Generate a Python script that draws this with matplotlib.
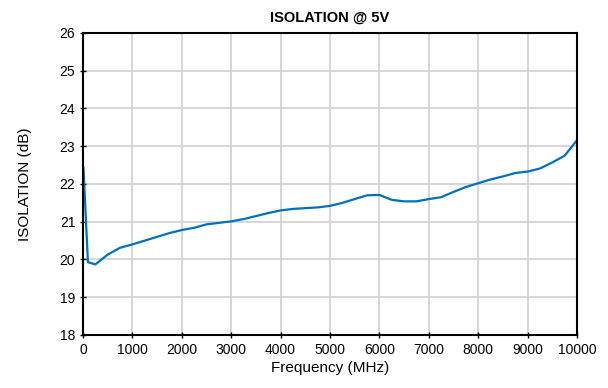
import numpy as np
import matplotlib.pyplot as plt

plt.rcParams['font.family'] = ['Liberation Sans', 'DejaVu Sans']

# Isolation @ 5V, frequency in MHz
freq = [10, 100, 250, 500, 750, 1000, 1250, 1500, 1750, 2000, 2250, 2500, 2750,
        3000, 3250, 3500, 3750, 4000, 4250, 4500, 4750, 5000, 5250, 5500, 5750,
        6000, 6250, 6500, 6750, 7000, 7250, 7500, 7750, 8000, 8250, 8500, 8750,
        9000, 9250, 9500, 9750, 10000]
isolation = [22.42, 19.93, 19.87, 20.13, 20.31, 20.40, 20.50, 20.60, 20.70, 20.78,
             20.84, 20.93, 20.97, 21.01, 21.07, 21.15, 21.23, 21.30, 21.34, 21.36,
             21.38, 21.42, 21.50, 21.60, 21.70, 21.71, 21.58, 21.54, 21.54, 21.60,
             21.65, 21.79, 21.92, 22.02, 22.12, 22.20, 22.29, 22.33, 22.41, 22.57,
             22.75, 23.16]

fig = plt.figure(figsize=(6.08, 3.88), dpi=100)
ax = fig.add_axes([0.1365, 0.1366, 0.8125, 0.7784])

ax.plot(freq, isolation, color='#0070c0', linewidth=1.6)

ax.set_xlim(0, 10000)
ax.set_ylim(18, 26)
ax.set_xticks(np.arange(0, 10001, 1000))
ax.set_yticks(np.arange(18, 27, 1))
ax.grid(True, color='#d0d0d0', linewidth=1.2)
ax.set_axisbelow(True)
for s in ax.spines.values():
    s.set_linewidth(1.5)
    s.set_color('black')
ax.tick_params(axis='both', labelsize=10, direction='inout', length=5, width=1, pad=3)

ax.set_title('ISOLATION @ 5V', fontsize=10.5, fontweight='bold', pad=8)
ax.set_xlabel('Frequency (MHz)', fontsize=11, labelpad=3)
ax.set_ylabel('ISOLATION (dB)', fontsize=11, labelpad=20)

fig.savefig('out.png', dpi=100)
